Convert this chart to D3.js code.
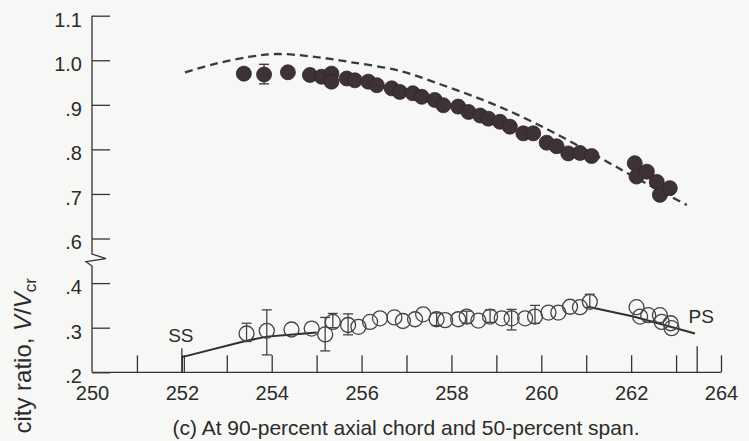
<!DOCTYPE html>
<html>
<head>
<meta charset="utf-8">
<script src="https://cdn.jsdelivr.net/npm/d3@7"></script>
<style>
  body { margin: 0; background: #f7f7f5; }
  svg { display: block; }
  text { font-family: "Liberation Sans", Arial, Helvetica, sans-serif; fill: #2b2b2b; }
</style>
</head>
<body>
<div id="chart"></div>
<script>
// Filled circles (upper set)
var filledX = [253.38, 253.83, 254.36, 254.85, 255.11, 255.33, 255.33, 255.67, 255.85, 256.15, 256.34, 256.67, 256.85, 257.14, 257.34, 257.63, 257.82, 258.15, 258.38, 258.64, 258.82, 259.08, 259.30, 259.60, 259.82, 260.12, 260.34, 260.60, 260.86, 261.12, 262.08, 262.12, 262.35, 262.57, 262.64, 262.86];
var filledY = [0.970, 0.968, 0.973, 0.967, 0.963, 0.970, 0.952, 0.959, 0.955, 0.952, 0.944, 0.937, 0.929, 0.926, 0.918, 0.911, 0.899, 0.896, 0.884, 0.876, 0.869, 0.862, 0.851, 0.836, 0.836, 0.815, 0.807, 0.791, 0.792, 0.785, 0.769, 0.739, 0.750, 0.727, 0.698, 0.713];
var filledErrX = [253.83];
var filledErrLo = [0.947];
var filledErrHi = [0.991];

// Open circles (lower set)
var openX = [253.44, 253.89, 254.44, 254.89, 255.19, 255.36, 255.70, 255.93, 256.19, 256.41, 256.73, 256.92, 257.19, 257.37, 257.67, 257.86, 258.15, 258.34, 258.60, 258.86, 259.12, 259.34, 259.64, 259.86, 260.16, 260.38, 260.64, 260.86, 261.08, 262.12, 262.20, 262.38, 262.64, 262.68, 262.88, 262.90];
var openY = [0.287, 0.293, 0.296, 0.298, 0.285, 0.313, 0.306, 0.302, 0.313, 0.321, 0.323, 0.315, 0.319, 0.330, 0.319, 0.317, 0.319, 0.325, 0.316, 0.325, 0.321, 0.321, 0.321, 0.325, 0.334, 0.334, 0.347, 0.346, 0.358, 0.346, 0.325, 0.328, 0.328, 0.313, 0.310, 0.299];
var openErrX = [253.44, 253.89, 255.19, 255.36, 255.70, 257.67, 258.34, 258.86, 259.34, 259.86, 261.08];
var openErrLo = [0.269, 0.239, 0.248, 0.300, 0.284, 0.305, 0.310, 0.312, 0.295, 0.310, 0.345];
var openErrHi = [0.310, 0.340, 0.323, 0.332, 0.331, 0.333, 0.337, 0.340, 0.341, 0.350, 0.375];

// Dashed curve (upper)
var dashX = [252.07, 252.78, 253.52, 254.11, 254.85, 255.74, 256.86, 257.81, 258.70, 259.53, 260.42, 261.31, 262.20, 263.24];
var dashY = [0.973, 0.993, 1.008, 1.014, 1.009, 0.996, 0.976, 0.944, 0.911, 0.875, 0.830, 0.781, 0.731, 0.675];

// Solid line segments (lower)
var ssLineX = [252.0, 253.37, 253.89, 254.41, 255.0];
var ssLineY = [0.234, 0.269, 0.280, 0.284, 0.289];
var psLineX = [261.04, 262.05, 263.42];
var psLineY = [0.347, 0.325, 0.287];

// Surface markers
var markerLabels = ["SS", "PS"];
var markerX = [252.0, 263.47];

// Ticks
var xMinorTicks = d3.range(251, 265);
var xLabelTicks = [250, 252, 254, 256, 258, 260, 262, 264];
var yUpperTicks = [0.6, 0.7, 0.8, 0.9, 1.0, 1.1];
var yLowerTicks = [0.2, 0.3, 0.4];

var width = 749, height = 441;
var ink = "#333";
var labelSize = 20;

var svg = d3.select("#chart").append("svg")
  .attr("width", width)
  .attr("height", height);

svg.append("rect").attr("width", width).attr("height", height).attr("fill", "#f7f7f5");

var plotLeft = 92, plotRight = 721, plotTop = 15.7, plotBottom = 372.3;

var x = d3.scaleLinear().domain([250, 264]).range([plotLeft, plotRight]);
// broken y axis: two linear pieces
var yUpper = d3.scaleLinear().domain([0.6, 1.1]).range([238.5, plotTop]);
var yLower = d3.scaleLinear().domain([0.2, 0.4]).range([plotBottom, 283.1]);
function y(v) { return v >= 0.5 ? yUpper(v) : yLower(v); }

function fmt(v) {
  var s = d3.format(".1f")(v);
  return v < 1 ? s.replace(/^0/, "") : s;
}

function styleAxis(g) {
  g.select(".domain").remove();
  g.selectAll("line").attr("stroke", ink).attr("stroke-width", 1.3);
  g.selectAll("text").attr("font-size", labelSize).attr("fill", "#2b2b2b");
}

// y axis pieces (ticks pointing inward, labels left)
svg.append("g")
  .attr("transform", "translate(" + plotLeft + ",0)")
  .call(d3.axisLeft(yUpper).tickValues(yUpperTicks).tickSize(-18).tickPadding(10).tickFormat(fmt))
  .call(styleAxis)
  .selectAll("text").attr("dy", "0.52em").attr("y", 0);

svg.append("g")
  .attr("transform", "translate(" + plotLeft + ",0)")
  .call(d3.axisLeft(yLower).tickValues(yLowerTicks).tickSize(-18).tickPadding(10).tickFormat(fmt))
  .call(styleAxis)
  .selectAll("text").attr("dy", "0.52em").attr("y", 0);

// y axis line with break zigzag
var axisPath = d3.path();
axisPath.moveTo(plotLeft, plotTop);
axisPath.lineTo(plotLeft, 254);
axisPath.lineTo(plotLeft + 14, 258.7);
axisPath.lineTo(plotLeft - 6, 261.7);
axisPath.lineTo(plotLeft, 266);
axisPath.lineTo(plotLeft, plotBottom);
svg.append("path")
  .attr("d", axisPath.toString())
  .attr("fill", "none")
  .attr("stroke", ink)
  .attr("stroke-width", 1.3);

// x axis: minor ticks upward
svg.append("g")
  .attr("transform", "translate(0," + plotBottom + ")")
  .call(d3.axisBottom(x).tickValues(xMinorTicks).tickSize(-17).tickFormat(""))
  .call(function(g) {
    g.select(".domain").remove();
    g.selectAll("line").attr("stroke", ink).attr("stroke-width", 1.3);
  });

// x axis labels
svg.append("g")
  .attr("transform", "translate(0," + plotBottom + ")")
  .call(d3.axisBottom(x).tickValues(xLabelTicks).tickSize(0).tickPadding(14).tickFormat(d3.format("d")))
  .call(styleAxis);

svg.append("line")
  .attr("x1", plotLeft).attr("x2", plotRight)
  .attr("y1", plotBottom).attr("y2", plotBottom)
  .attr("stroke", ink).attr("stroke-width", 1.3);

// SS / PS markers
var markers = markerLabels.map(function(d, i) { return { label: d, x: markerX[i] }; });
var mk = svg.selectAll(".marker").data(markers).enter().append("g").attr("class", "marker");
mk.append("line")
  .attr("x1", function(d) { return x(d.x); })
  .attr("x2", function(d) { return x(d.x); })
  .attr("y1", plotBottom)
  .attr("y2", function(d) { return d.label === "SS" ? plotBottom - 24 : plotBottom - 26; })
  .attr("stroke", ink).attr("stroke-width", 1.3);
mk.filter(function(d) { return d.label === "SS"; }).append("line")
  .attr("x1", function(d) { return x(d.x) + 2.5; })
  .attr("x2", function(d) { return x(d.x) + 2.5; })
  .attr("y1", plotBottom)
  .attr("y2", plotBottom - 17)
  .attr("stroke", ink).attr("stroke-width", 1.2);
mk.append("text")
  .attr("x", function(d) { return d.label === "SS" ? x(d.x) - 1 : x(d.x) + 4; })
  .attr("y", function(d) { return d.label === "SS" ? 342 : 323; })
  .attr("text-anchor", "middle")
  .attr("font-size", 19)
  .text(function(d) { return d.label; });

// dashed curve
var dashData = dashX.map(function(d, i) { return [d, dashY[i]]; });
var lineGen = d3.line()
  .x(function(d) { return x(d[0]); })
  .y(function(d) { return y(d[1]); });
svg.append("path")
  .datum(dashData)
  .attr("d", lineGen.curve(d3.curveCatmullRom))
  .attr("fill", "none")
  .attr("stroke", "#3a3a3a")
  .attr("stroke-width", 2.3)
  .attr("stroke-dasharray", "8,5");

// solid lower lines
var straight = d3.line()
  .x(function(d) { return x(d[0]); })
  .y(function(d) { return y(d[1]); });
[[ssLineX, ssLineY], [psLineX, psLineY]].forEach(function(seg) {
  var pts = seg[0].map(function(d, i) { return [d, seg[1][i]]; });
  svg.append("path")
    .datum(pts)
    .attr("d", straight)
    .attr("fill", "none")
    .attr("stroke", "#2f2f2f")
    .attr("stroke-width", 2);
});

// error bars
function drawErrors(xs, lo, hi, color) {
  var data = xs.map(function(d, i) { return { x: d, lo: lo[i], hi: hi[i] }; });
  var g = svg.append("g").attr("stroke", color).attr("stroke-width", 1.3);
  g.selectAll(".ev").data(data).enter().append("line")
    .attr("x1", function(d) { return x(d.x); })
    .attr("x2", function(d) { return x(d.x); })
    .attr("y1", function(d) { return y(d.lo); })
    .attr("y2", function(d) { return y(d.hi); });
  g.selectAll(".ecl").data(data).enter().append("line")
    .attr("x1", function(d) { return x(d.x) - 5; })
    .attr("x2", function(d) { return x(d.x) + 5; })
    .attr("y1", function(d) { return y(d.lo); })
    .attr("y2", function(d) { return y(d.lo); });
  g.selectAll(".ech").data(data).enter().append("line")
    .attr("x1", function(d) { return x(d.x) - 5; })
    .attr("x2", function(d) { return x(d.x) + 5; })
    .attr("y1", function(d) { return y(d.hi); })
    .attr("y2", function(d) { return y(d.hi); });
}

drawErrors(openErrX, openErrLo, openErrHi, "#444");

// open circles
var openData = openX.map(function(d, i) { return [d, openY[i]]; });
svg.selectAll(".open").data(openData).enter().append("circle")
  .attr("class", "open")
  .attr("cx", function(d) { return x(d[0]); })
  .attr("cy", function(d) { return y(d[1]); })
  .attr("r", 7.5)
  .attr("fill", "none")
  .attr("stroke", "#444")
  .attr("stroke-width", 1.3);

drawErrors(filledErrX, filledErrLo, filledErrHi, "#3a3032");

// filled circles
var filledData = filledX.map(function(d, i) { return [d, filledY[i]]; });
svg.selectAll(".filled").data(filledData).enter().append("circle")
  .attr("class", "filled")
  .attr("cx", function(d) { return x(d[0]); })
  .attr("cy", function(d) { return y(d[1]); })
  .attr("r", 7.5)
  .attr("fill", "#3d3234")
  .attr("stroke", "#2e2627")
  .attr("stroke-width", 0.8);

// y axis title: only the visible part of the figure's label
var yt = svg.append("text")
  .attr("transform", "translate(31,278) rotate(-90)")
  .attr("text-anchor", "end")
  .attr("font-size", 24);
yt.append("tspan").text("city ratio, ");
yt.append("tspan").attr("font-style", "italic").text("V");
yt.append("tspan").text("/");
yt.append("tspan").attr("font-style", "italic").text("V");
yt.append("tspan").attr("font-size", 17).attr("dy", 5).text("cr");

// caption
svg.append("text")
  .attr("x", 406)
  .attr("y", 435)
  .attr("text-anchor", "middle")
  .attr("font-size", 21)
  .text("(c) At 90-percent axial chord and 50-percent span.");
</script>
</body>
</html>
